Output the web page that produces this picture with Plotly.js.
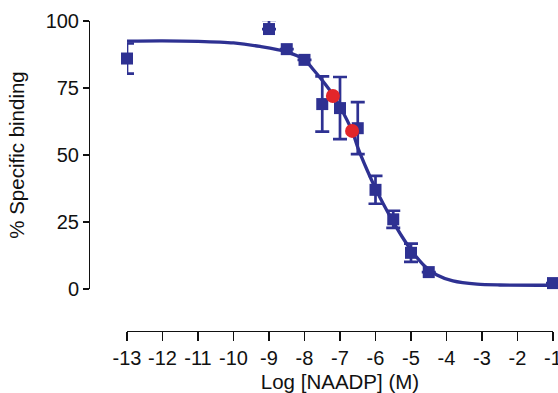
<!DOCTYPE html>
<html>
<head>
<meta charset="utf-8">
<script src="https://cdn.plot.ly/plotly-3.0.1.min.js"></script>
<style>html,body{margin:0;padding:0;background:#fff;}#chart{width:558px;height:393px;}</style>
</head>
<body>
<div id="chart"></div>
<script>
// Measured points (blue squares)
const logConc = [-13, -9, -8.5, -8, -7.5, -7, -6.5, -6, -5.5, -5, -4.5, -1];
const binding = [86, 97, 89.5, 85.5, 69, 67.5, 60, 37, 26, 13.5, 6.3, 2.2];
const bindingErrPlus = [5.6, 3.4, 0, 0, 10.3, 11.6, 9.7, 5.2, 3.2, 3.4, 0, 0];
const bindingErrMinus = [5.6, 0, 0, 0, 10.3, 11.6, 9.7, 5.2, 3.2, 3.4, 0, 0];

// Additional points (red circles)
const redConc = [-7.2, -6.66];
const redBinding = [72, 59];

// Fitted curve
const fitX = [-13.1, -12, -11, -10, -9.25, -8.5, -8.0, -7.76, -7.48, -7.2, -7.0, -6.66, -6.49, -6.24, -6.0, -5.79, -5.54, -5.25, -4.94, -4.61, -4.27, -3.82, -3.14, -2.5, -1.0];
const fitY = [92.5, 92.6, 92.4, 91.8, 90.5, 88.5, 85.5, 82, 77.5, 72.5, 68, 59, 52.5, 44.5, 37.5, 32, 26, 19.5, 13.5, 8.5, 5.2, 3.0, 1.8, 1.5, 1.4];

const xTickVals = [-13, -12, -11, -10, -9, -8, -7, -6, -5, -4, -3, -2, -1];
const yTickVals = [0, 25, 50, 75, 100];

const blue = '#2e3192';
const red = '#e2262a';
const tickFont = {family: 'Liberation Sans, Arial, sans-serif', size: 20, color: '#111'};
const titleFont = {family: 'Liberation Sans, Arial, sans-serif', size: 20.5, color: '#111'};

const traces = [
  {x: fitX, y: fitY, mode: 'lines', type: 'scatter', line: {color: blue, width: 3.3, shape: 'spline', smoothing: 0.8}, cliponaxis: false, hoverinfo: 'skip'},
  {x: logConc, y: binding, mode: 'markers', type: 'scatter',
   marker: {symbol: 'square', size: 12, color: blue},
   error_y: {type: 'data', symmetric: false, array: bindingErrPlus, arrayminus: bindingErrMinus, visible: true, color: blue, thickness: 2.7, width: 7},
   cliponaxis: false},
  {x: redConc, y: redBinding, mode: 'markers', type: 'scatter',
   marker: {symbol: 'circle', size: 14, color: red}, cliponaxis: false}
];

const layout = {
  width: 558, height: 393,
  margin: {l: 89, r: 5, t: 21, b: 62},
  showlegend: false,
  paper_bgcolor: '#fff', plot_bgcolor: '#fff',
  font: tickFont,
  xaxis: {
    domain: [0.0819, 1], anchor: 'free', position: 0,
    range: [-13, -1], tickvals: xTickVals, ticktext: xTickVals.map(String),
    ticklabeloverflow: 'allow',
    showgrid: false, zeroline: false, showline: true, linecolor: '#111', linewidth: 1.3,
    ticks: 'outside', ticklen: 9, tickwidth: 1.3, tickcolor: '#111',
    tickfont: tickFont,
    title: {text: 'Log [NAADP] (M)', font: titleFont, standoff: 6}
  },
  yaxis: {
    domain: [0.1355, 1], anchor: 'free', position: 0,
    range: [0, 100], tickvals: yTickVals,
    showgrid: false, zeroline: false, showline: true, linecolor: '#111', linewidth: 1.3,
    ticks: 'outside', ticklen: 6, tickwidth: 1.3, tickcolor: '#111',
    tickfont: tickFont,
    title: {text: '% Specific binding', font: titleFont, standoff: 14}
  }
};

Plotly.newPlot('chart', traces, layout, {displayModeBar: false, staticPlot: true});
</script>
</body>
</html>
